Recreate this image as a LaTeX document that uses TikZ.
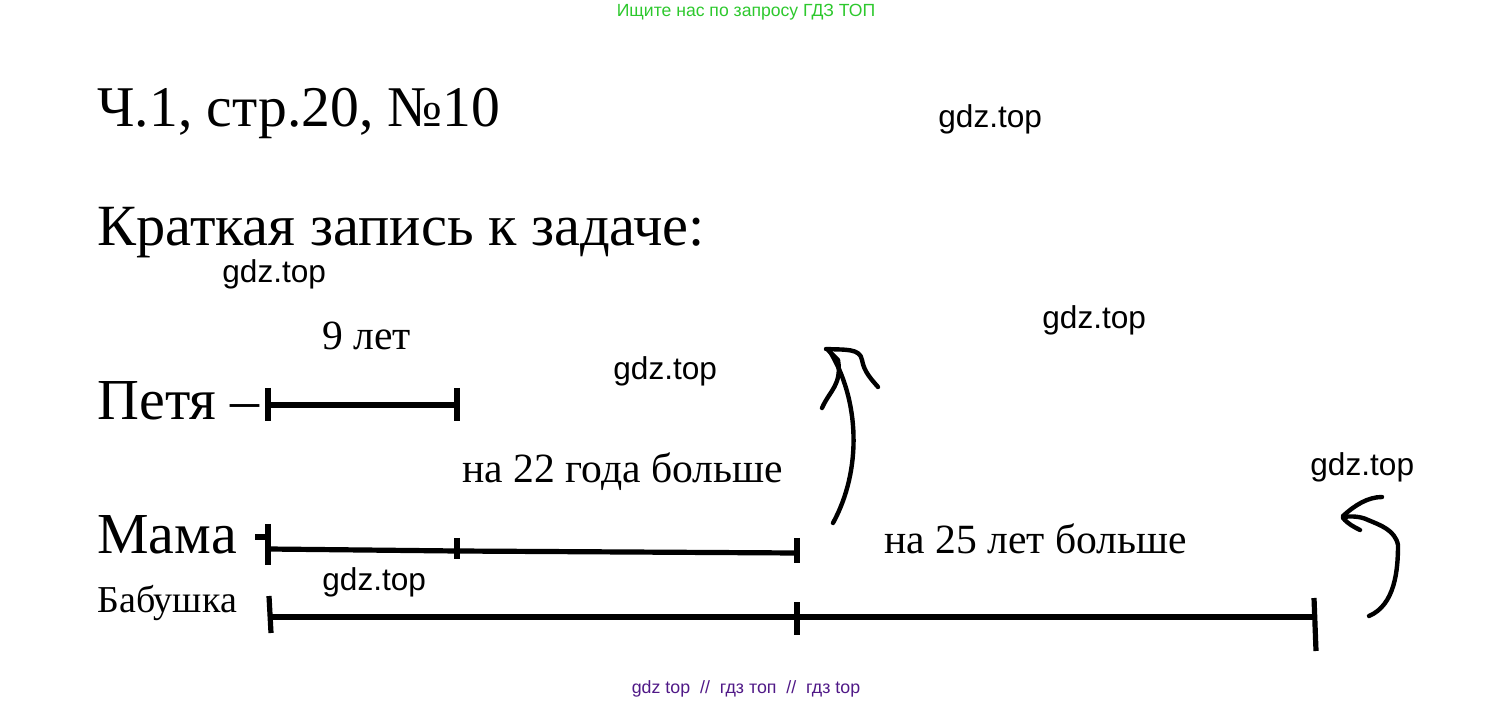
\documentclass[tikz,border=0pt]{standalone}
\usepackage{fontspec}
\setmainfont{Liberation Serif}
\newfontfamily\wmfont{Liberation Sans}
\definecolor{wmgreen}{RGB}{45,200,45}
\definecolor{wmpurple}{RGB}{80,25,135}
\tikzset{
  big/.style={font=\fontsize{29}{34}\selectfont},
  mid/.style={font=\fontsize{20.8}{24}\selectfont},
  wm/.style={font=\wmfont\fontsize{15.8}{18}\selectfont, anchor=west},
  seg/.style={line width=2.6pt},
  hand/.style={line width=2.2pt, line cap=round, line join=round}
}
\begin{document}
\begin{tikzpicture}[x=0.5pt,y=-0.5pt]
  \useasboundingbox (0,0) rectangle (1492,704);

  % titles and labels
  \begin{scope}[every node/.style={anchor=base west, inner sep=0pt}]
    \node[font=\fontsize{28.8}{34}\selectfont] (title) at (97,127) {Ч.1, стр.20, №10};
    \node[font=\fontsize{29.2}{34}\selectfont] (task) at (97,246) {Краткая запись к задаче:};
    \node[big] (petya) at (97,420) {Петя –};
    \node[big] (mama) at (97,553) {Мама};
    \node[font=\fontsize{19}{22}\selectfont] (babushka) at (97,612) {Бабушка};
    \node[mid] (nine) at (322,350) {9 лет};
    \node[mid] (plus22) at (462,483) {на 22 года больше};
    \node[mid] (plus25) at (884,553) {на 25 лет больше};
  \end{scope}

  % watermarks
  \begin{scope}[every node/.style={inner sep=0pt}]
    \node[wm] (wm1) at (938,119) {gdz.top};
    \node[wm] (wm2) at (222,274) {gdz.top};
    \node[wm] (wm3) at (1042,320) {gdz.top};
    \node[wm] (wm4) at (613,371) {gdz.top};
    \node[wm] (wm5) at (1310,467) {gdz.top};
    \node[wm] (wm6) at (322,582) {gdz.top};
    \node[text=wmgreen, font=\wmfont\fontsize{8.8}{10}\selectfont] (top) at (746,12) {Ищите нас по запросу ГДЗ ТОП};
    \node[text=wmpurple, font=\wmfont\fontsize{8.9}{10}\selectfont] (bottom) at (746,689) {gdz top \ // \ гдз топ \ // \ гдз top};
  \end{scope}

  % segments
  \coordinate (p1) at (268,405);
  \coordinate (p2) at (457,405);
  \coordinate (m1) at (268,549);
  \coordinate (m2) at (457,551);
  \coordinate (m3) at (797,553);
  \coordinate (b1) at (270,617);
  \coordinate (b2) at (797,617);
  \coordinate (b3) at (1315,617);

  \begin{scope}[seg]
    \draw (p1) -- (p2);
    \draw (268,388) -- (268,421);
    \draw (457,388) -- (457,421);

    \draw (m1) -- (m2) -- (m3);
    \draw (255,537) -- (268,537);
    \draw (268,524) -- (268,565);
    \draw (457,538) -- (457,559);
    \draw (797,538) -- (797,563);

    \draw (b1) -- (b3);
    \draw (269,596) -- (271,633);
    \draw (797,602) -- (797,635);
    \draw (1314,598) -- (1316,651);
  \end{scope}

  % hand drawn arrows
  \begin{scope}[hand]
    \draw (833,523) .. controls (862,470) and (860,400) .. (829,350);
    \draw (822,408) .. controls (830,390) and (842,385) .. (838,360) -- (828,350);
    \draw (826,349) .. controls (845,350) and (860,348) .. (862,360) .. controls (864,372) and (872,380) .. (878,387);
    \draw (1369,616) .. controls (1395,605) and (1398,570) .. (1398,545) .. controls (1395,530) and (1380,525) .. (1368,520) .. controls (1360,516) and (1350,516) .. (1343,517);
    \draw (1343,516) .. controls (1355,505) and (1368,497) .. (1382,497);
    \draw (1343,518) .. controls (1348,524) and (1354,527) .. (1360,530);
  \end{scope}

\end{tikzpicture}
\end{document}
